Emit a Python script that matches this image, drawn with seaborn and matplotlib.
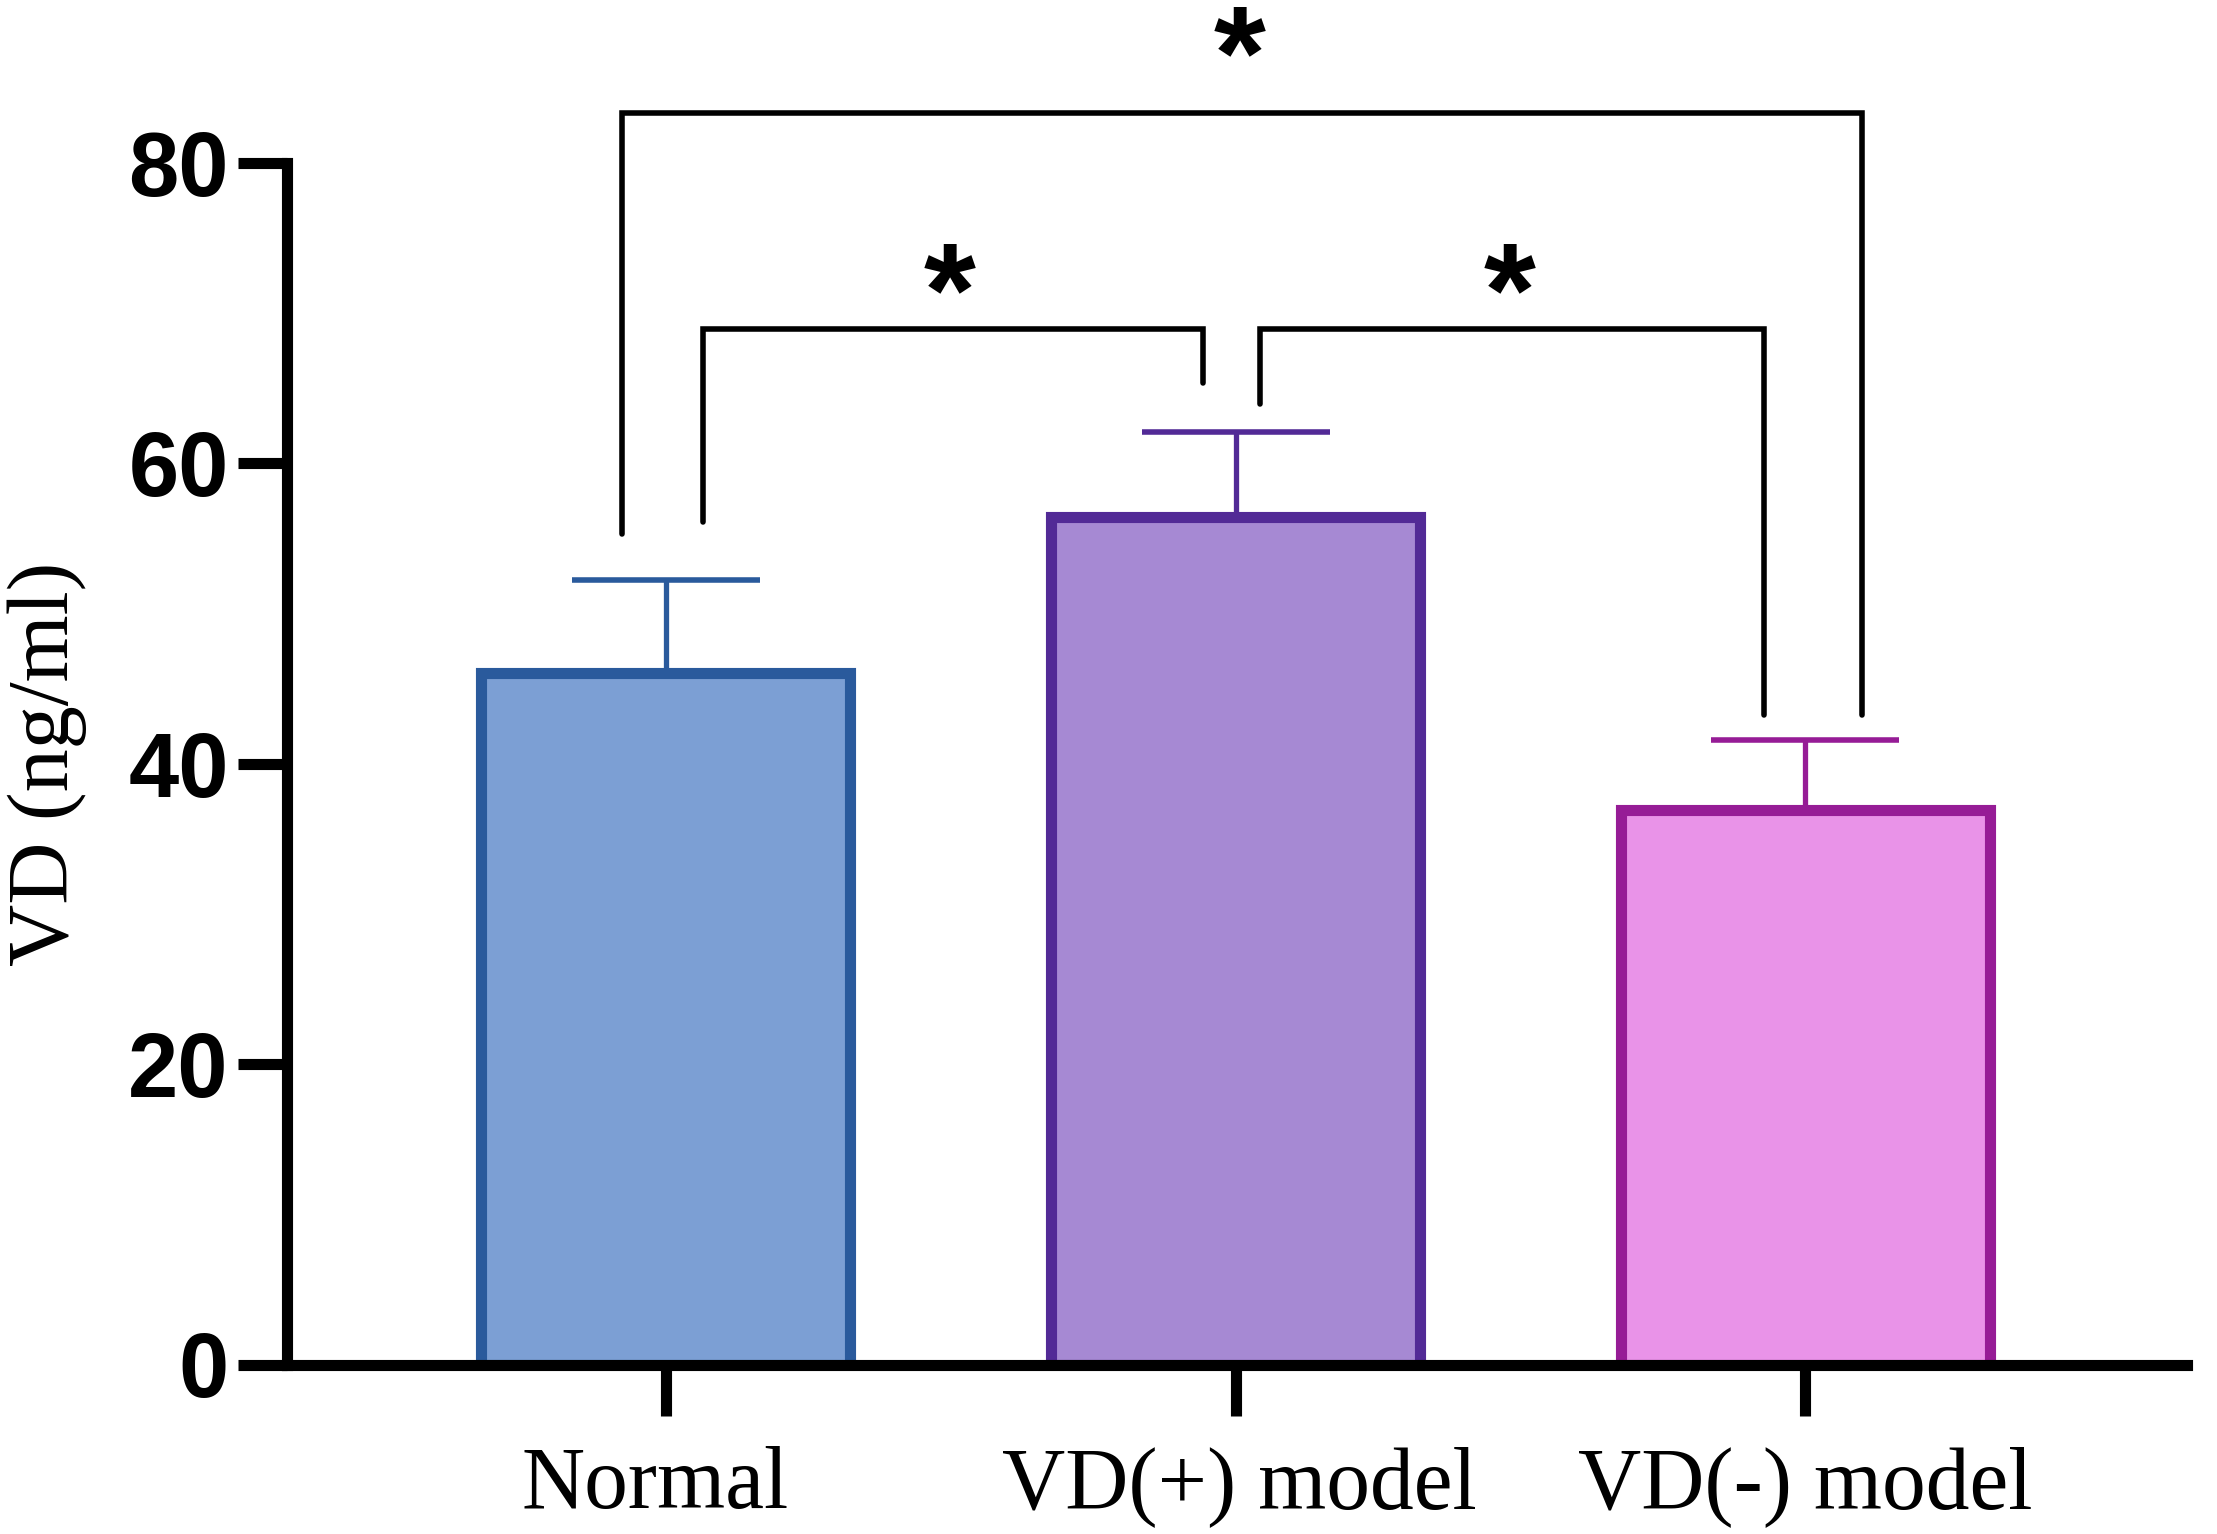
import matplotlib
matplotlib.use("Agg")
import matplotlib.pyplot as plt
from matplotlib.transforms import ScaledTranslation
import pandas as pd
import seaborn as sns

groups = ["Normal", "VD(+) model", "VD(-) model"]
means = [46.0, 56.4, 36.9]
errors = [6.2, 5.7, 4.7]
fills = ["#7c9fd4", "#a689d3", "#e993e8"]
edges = ["#2a5a9c", "#522a96", "#961c96"]
y_ticks = [0, 20, 40, 60, 80]

# brackets: x-left, left foot y, x-right, right foot y, top y, star x, star y
brackets = [
    (0.0645, 56.1, 0.943, 65.3, 68.9, 0.498, 70.8),
    (1.042, 63.9, 1.928, 43.2, 68.9, 1.481, 70.8),
    (-0.077, 55.25, 2.099, 43.2, 83.3, 1.007, 86.6),
]

sns.set_theme(style="white")
plt.rcParams["font.family"] = ["Liberation Serif", "DejaVu Serif"]
plt.rcParams["text.color"] = "black"
plt.rcParams["axes.labelcolor"] = "black"
plt.rcParams["xtick.labelcolor"] = "black"
plt.rcParams["ytick.labelcolor"] = "black"

W, H = 2217, 1534
fig = plt.figure(figsize=(W / 200, H / 200), dpi=200)
ax = fig.add_axes([287 / W, (H - 1364.5) / H, (2187 - 287) / W, 1364.5 / H])

df = pd.DataFrame({"group": groups, "mean": means})
sns.barplot(data=df, x="group", y="mean", hue="group", palette=fills, order=groups,
            hue_order=groups, legend=False, width=0.648, saturation=1, ax=ax, zorder=2)
for patch, ec in zip(ax.patches, edges):
    patch.set_edgecolor(ec)
    patch.set_linewidth(4.0)
    patch.set_joinstyle("miter")

for i, (m, e, ec) in enumerate(zip(means, errors, edges)):
    ax.errorbar(i, m, yerr=[[0], [e]], fmt="none", ecolor=ec, elinewidth=1.9,
                capsize=34, capthick=2.0, zorder=1)

ax.set_xlim(-0.665, 2.67)
ax.set_ylim(0, 965 / 10.625)
ax.set_xlabel("")
ax.set_ylabel("VD (ng/ml)", fontsize=31)
ax.yaxis.set_label_coords(-0.105, 0.44)
ax.set_yticks(y_ticks)
ax.set_xticks(range(len(groups)))
ax.set_xticklabels(groups, fontsize=31.5)
for lab in ax.get_yticklabels():
    lab.set_family(["Liberation Sans", "DejaVu Sans"])
    lab.set_fontweight("bold")
    lab.set_fontsize(32.5)
ax.tick_params(axis="y", length=17.5, width=4, color="black", left=True, pad=3.5)
ax.tick_params(axis="x", length=18.5, width=4, color="black", bottom=True, pad=10.8)
sns.despine(ax=ax)
ax.spines["left"].set_bounds(0, y_ticks[-1])
for side in ("left", "bottom"):
    ax.spines[side].set_linewidth(4)
    ax.spines[side].set_color("black")

# the reference's category labels sit slightly off their ticks
label_shift_pt = [-4.0, 1.5, 0.0]
for lab, dx in zip(ax.get_xticklabels(), label_shift_pt):
    lab.set_transform(lab.get_transform() + ScaledTranslation(dx / 72, 0, fig.dpi_scale_trans))

for x0, y0, x1, y1, top, sx, sy in brackets:
    ax.plot([x0, x0, x1, x1], [y0, top, top, y1], color="black", lw=2.0,
            solid_joinstyle="miter", clip_on=False)
    ax.text(sx, sy, "*", fontsize=48, fontweight="bold", ha="center", va="center",
            family=["Liberation Sans", "DejaVu Sans"], clip_on=False)

fig.savefig("out.png", dpi=200)
